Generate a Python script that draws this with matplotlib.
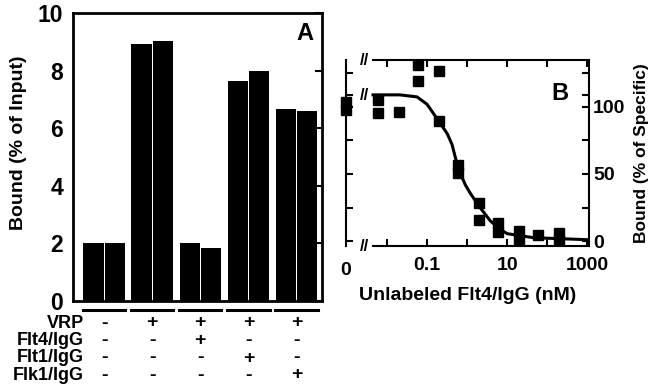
import numpy as np
import matplotlib
matplotlib.use("Agg")
from matplotlib import pyplot as plt
from matplotlib.transforms import blended_transform_factory

plt.rcParams['font.family'] = ['Liberation Sans', 'DejaVu Sans']
plt.rcParams['font.weight'] = 'bold'

# panel A: duplicate bars per condition
grupos = [0, 1, 2, 3, 4]
bar1 = [2.00, 8.94, 2.00, 7.63, 6.66]
bar2 = [2.02, 9.02, 1.84, 7.98, 6.59]
linhas = ['VRP', 'Flt4/IgG', 'Flt1/IgG', 'Flk1/IgG']
sinais = [['-', '+', '+', '+', '+'],
          ['-', '-', '+', '-', '-'],
          ['-', '-', '-', '+', '-'],
          ['-', '-', '-', '-', '+']]

# panel B: competition binding
x_zero = [0.00095, 0.00095]
y_zero = [104, 98]
x_pts = [0.006, 0.006, 0.02, 0.06, 0.06, 0.2, 0.2, 0.6, 0.6,
         2, 2, 6, 6, 20, 20, 60, 200, 200]
y_pts = [105, 95.5, 96.5, 131, 119.5, 127, 89.5, 57, 51,
         28, 15.7, 13.4, 7, 7.5, 0.7, 4.5, 6, 0.5]
x_curva = [0.0045, 0.021, 0.056, 0.1, 0.19, 0.32, 0.42, 0.6, 0.9, 1.2,
           2.1, 3.8, 6.5, 10, 45, 1000]
y_curva = [109, 109, 107.5, 102, 90, 80, 72, 54, 42, 35.6,
           25, 15, 9, 5.5, 2.5, 1]

fig = plt.figure(figsize=(6.62, 3.86), dpi=100)

# ---------- A ----------
axA = fig.add_axes([73/662, 1-301/386, 249/662, 288/386])
larg = 0.42
axA.bar(np.array(grupos) - 0.22, bar1, width=larg, color='black')
axA.bar(np.array(grupos) + 0.22, bar2, width=larg, color='black')
axA.set_xlim(-0.645, 4.53)
axA.set_ylim(0, 10)
axA.set_yticks([0, 2, 4, 6, 8, 10])
axA.set_xticks([])
axA.tick_params(axis='y', which='both', direction='in', length=0,
                labelsize=16.5, pad=7)
axA.tick_params(axis='y', right=True, length=5, width=1.5, left=False)
for s in axA.spines.values():
    s.set_linewidth(2)
axA.set_ylabel('Bound (% of Input)', fontsize=14, fontweight='bold', labelpad=5)
axA.yaxis.set_label_coords(-0.185, 0.55)
axA.text(0.965, 0.93, 'A', transform=axA.transAxes, fontsize=17,
         fontweight='bold', ha='right', va='center')

tr = blended_transform_factory(axA.transData, axA.transAxes)
for g in grupos:
    axA.plot([g - 0.44, g + 0.44], [-0.031, -0.031], color='black', lw=2.2,
             transform=tr, clip_on=False)

ys = [323, 340.5, 358, 375]
for i, nome in enumerate(linhas):
    yf = 1 - ys[i]/386
    fig.text(84/662, yf, nome, ha='right', va='center', fontsize=13,
             fontweight='heavy')
    for g in grupos:
        pos = axA.transData.transform((g, 0))[0] / fig.bbox.width
        s = sinais[i][g]
        fig.text(pos, yf, s, ha='center', va='center',
                 fontsize=14, fontweight='heavy')

# ---------- B ----------
axB = fig.add_axes([346/662, 1-246/386, 243/662, 186/386])
axB.set_xscale('log')
axB.set_xlim(0.00095, 1100)
axB.set_ylim(-3.7, 135)
axB.plot(x_curva, y_curva, color='black', lw=2.2)
axB.plot(x_pts, y_pts, 's', color='black', ms=7.5)
axB.plot(x_zero, y_zero, 's', color='black', ms=7.5, clip_on=False)

axB.set_xticks([0.01, 0.1, 1, 10, 100, 1000])
axB.set_xticklabels(['', '0.1', '', '10', '', '1000'])
axB.xaxis.set_minor_locator(plt.NullLocator())
axB.tick_params(axis='x', direction='in', top=True, length=5, width=1.5,
                labelsize=14, pad=8)
axB.set_yticks([0, 25, 50, 75, 100, 109, 125])
axB.set_yticklabels(['0', '', '50', '', '100', '', ''])
axB.tick_params(axis='y', direction='in', left=True, right=True,
                labelleft=False, labelright=True, length=5, width=1.5,
                labelsize=14, pad=3)
for s in axB.spines.values():
    s.set_linewidth(1.5)
axB.spines['bottom'].set_bounds(0.0045, 1100)
axB.spines['top'].set_bounds(0.0045, 1100)
axB.text(0.00095, -0.13, '0', transform=blended_transform_factory(
    axB.transData, axB.transAxes), ha='center', va='center', fontsize=14)
axB.set_xlabel('Unlabeled Flt4/IgG (nM)', fontsize=14, fontweight='bold',
               labelpad=9)
axB.yaxis.set_label_position('right')
axB.set_ylabel('Bound (% of Specific)', fontsize=12.5, fontweight='bold',
               labelpad=6)
axB.text(0.88, 0.82, 'B', transform=axB.transAxes, fontsize=17,
         fontweight='bold', ha='center', va='center')
for yy in [0.0, 0.81, 1.0]:
    axB.text(0.075, yy, '//', transform=axB.transAxes, fontsize=12,
             fontweight='bold', ha='center', va='center')

fig.savefig('out.png', dpi=100)
